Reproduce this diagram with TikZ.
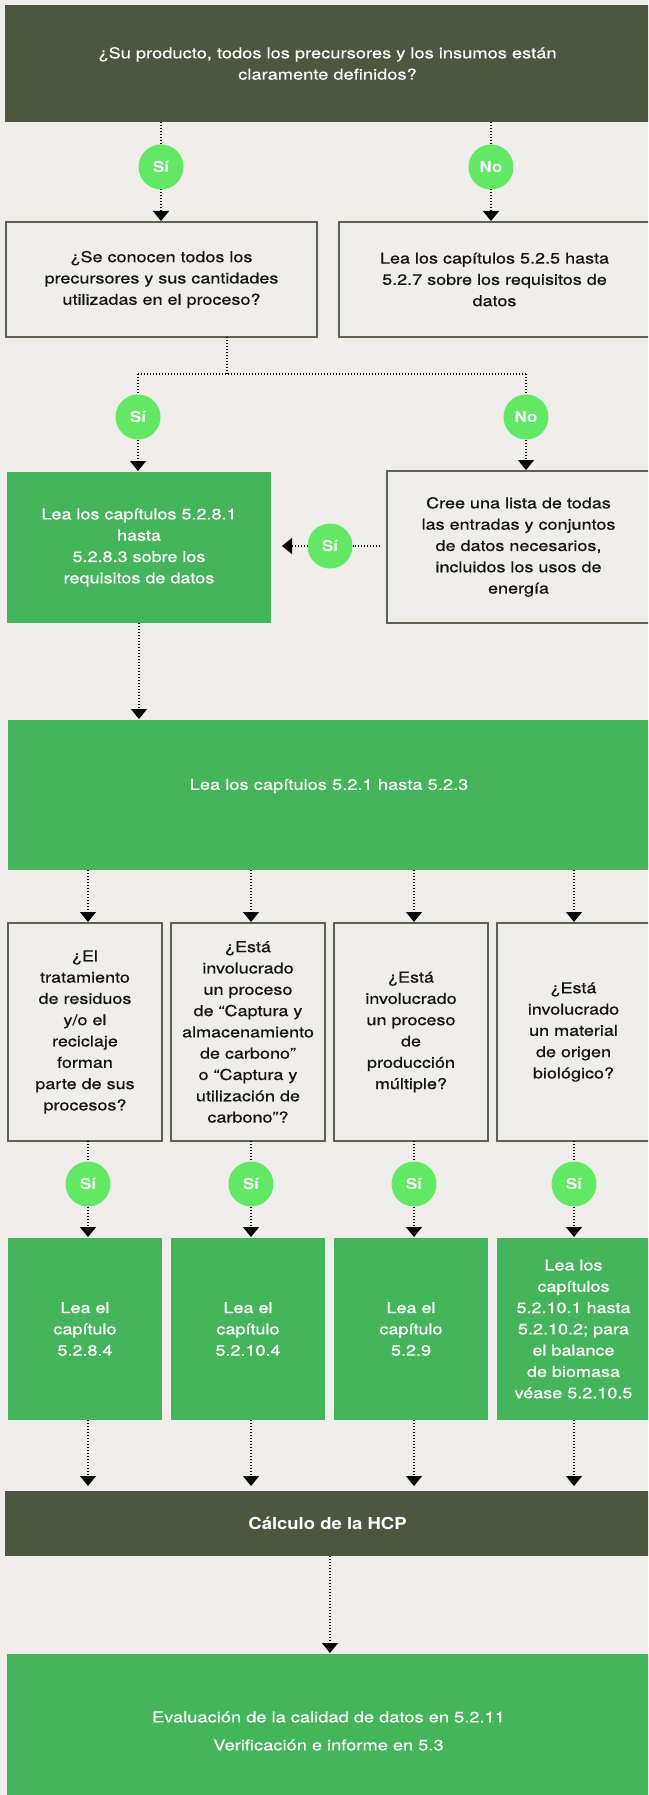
\documentclass[tikz,border=0pt]{standalone}
\usepackage{fontspec}
\setmainfont{TeX Gyre Heros}[FakeStretch=1.2, FakeBold=0.6]
\newfontfamily\lightf{TeX Gyre Heros}[FakeStretch=1.22, FakeBold=0.2]
\newfontfamily\boldf{TeX Gyre Heros}[FakeStretch=1.12]
\usetikzlibrary{arrows.meta}
\definecolor{bg}{HTML}{EFEEEA}
\definecolor{dark}{HTML}{4D5740}
\definecolor{grn}{HTML}{45B55C}
\definecolor{lgrn}{HTML}{62E865}
\definecolor{edge}{HTML}{5D6354}
\definecolor{ink}{HTML}{141414}
\begin{document}
\begin{tikzpicture}[x=1pt,y=-1pt,
  every node/.style={inner sep=0pt, outer sep=0pt},
  txt/.style={font=\fontsize{15}{21.3}\selectfont, align=center},
  ltxt/.style={font=\lightf\fontsize{15}{21.3}\selectfont, align=center},
  qbox/.style={draw=edge, line width=1.5pt, fill=bg, txt, text=ink},
  gbox/.style={fill=grn, txt, text=white},
  dbox/.style={fill=dark, ltxt, text=white},
  yes/.style={circle, fill=lgrn, minimum size=45pt, text=white, font=\boldf\bfseries\fontsize{15}{18}\selectfont},
  dot/.style={line width=1.1pt, dash pattern=on 1pt off 2pt, black},
  arr/.style={dot, -{Triangle[width=16pt,length=10pt]}, shorten >=1pt},
]
\useasboundingbox (0,0) rectangle (648,1795);
\fill[bg] (0,0) rectangle (648,1795);
\clip (0,0) rectangle (648,1795);

% top
\node[dbox, minimum width=645pt, minimum height=117pt, text width=600pt] (top) at (327.5,63.5)
  {¿Su producto, todos los precursores y los insumos están\\claramente definidos?};
\node[yes] (si1) at (161,167) {Sí};
\node[yes] (no1) at (491,167) {No};
\node[qbox, minimum width=311pt, minimum height=115pt, text width=290pt] (q1) at (161.5,279.5)
  {¿Se conocen todos los\\precursores y sus cantidades\\utilizadas en el proceso?};
\node[qbox, minimum width=311pt, minimum height=115pt, text width=290pt] (r1) at (494.5,279.5)
  {Lea los capítulos 5.2.5 hasta\\5.2.7 sobre los requisitos de\\datos};
\draw[dot] (top.south -| si1) -- (si1);
\draw[dot] (top.south -| no1) -- (no1);
\draw[arr] (si1) -- (q1.north -| si1);
\draw[arr] (no1) -- (r1.north -| no1);

% second level
\coordinate (sp) at (227,374);
\node[yes] (si2) at (138,417) {Sí};
\node[yes] (no2) at (526,417) {No};
\node[gbox, minimum width=264pt, minimum height=151pt, text width=250pt] (g1) at (139,547.5)
  {Lea los capítulos 5.2.8.1\\hasta\\5.2.8.3 sobre los\\requisitos de datos};
\node[qbox, minimum width=263pt, minimum height=152pt, text width=250pt] (c1) at (518.5,547)
  {Cree una lista de todas\\las entradas y conjuntos\\de datos necesarios,\\incluidos los usos de\\energía};
\node[yes] (si3) at (330,546) {Sí};
\draw[dot] (q1.south -| sp) -- (sp);
\draw[dot] (si2 |- sp) -- (no2 |- sp);
\draw[dot] (si2 |- sp) -- (si2);
\draw[dot] (no2 |- sp) -- (no2);
\draw[arr] (si2) -- (g1.north -| si2);
\draw[arr] (no2) -- (c1.north -| no2);
\draw[dot, shorten <=7pt] (c1.west |- si3) -- (si3);
\draw[arr, shorten >=11pt] (si3) -- (g1.east |- si3);

% big green
\node[fill=grn, minimum width=642pt, minimum height=150pt] (big1) at (329,795) {};
\node[ltxt, text=white] (big1t) at (329,786) {Lea los capítulos 5.2.1 hasta 5.2.3};
\draw[arr] (g1.south) -- (big1.north -| g1.south);

% row of questions
\node[qbox, minimum width=154pt, minimum height=218pt, text width=150pt] (qa) at (85,1032)
  {¿El\\tratamiento\\de residuos\\y/o el\\reciclaje\\forman\\parte de sus\\procesos?};
\node[qbox, minimum width=154pt, minimum height=218pt, text width=150pt] (qb) at (248,1032)
  {¿Está\\involucrado\\un proceso\\de “Captura y\\almacenamiento\\de carbono”\\o “Captura y\\utilización de\\carbono”?};
\node[qbox, minimum width=154pt, minimum height=218pt, text width=150pt] (qc) at (411,1032)
  {¿Está\\involucrado\\un proceso\\de\\producción\\múltiple?};
\node[qbox, minimum width=153pt, minimum height=218pt, text width=150pt] (qd) at (573.5,1032)
  {¿Está\\involucrado\\un material\\de origen\\biológico?};

\node[yes] (sa) at (88,1184) {Sí};
\node[yes] (sb) at (251,1184) {Sí};
\node[yes] (sc) at (414,1184) {Sí};
\node[yes] (sd) at (574,1184) {Sí};

\node[gbox, minimum width=154pt, minimum height=182pt, text width=150pt] (ga) at (85,1329)
  {Lea el\\capítulo\\5.2.8.4};
\node[gbox, minimum width=154pt, minimum height=182pt, text width=150pt] (gb) at (248,1329)
  {Lea el\\capítulo\\5.2.10.4};
\node[gbox, minimum width=154pt, minimum height=182pt, text width=150pt] (gc) at (411,1329)
  {Lea el\\capítulo\\5.2.9};
\node[gbox, minimum width=153pt, minimum height=182pt, text width=150pt] (gd) at (573.5,1329)
  {Lea los\\capítulos\\5.2.10.1 hasta\\5.2.10.2; para\\el balance\\de biomasa\\véase 5.2.10.5};

\node[fill=dark, minimum width=645pt, minimum height=65pt, text=white,
  font=\boldf\bfseries\fontsize{16.5}{20}\selectfont] (calc) at (327.5,1523.5) {Cálculo de la HCP};

\node[fill=grn, text=white, minimum width=643pt, minimum height=154pt, text width=600pt, align=center,
  font=\lightf\fontsize{15}{28}\selectfont] (fin) at (328.5,1731)
  {Evaluación de la calidad de datos en 5.2.11\\Verificación e informe en 5.3};

\foreach \q/\s/\g in {qa/sa/ga, qb/sb/gb, qc/sc/gc, qd/sd/gd}{
  \draw[arr] (big1.south -| \s) -- (\q.north -| \s);
  \draw[dot] (\q.south -| \s) -- (\s);
  \draw[arr] (\s) -- (\g.north -| \s);
  \draw[arr, shorten >=5pt] (\g.south -| \s) -- (calc.north -| \s);
}
\draw[arr] (calc.south) ++(2.5,0) coordinate (cs) -- (fin.north -| cs);
\end{tikzpicture}
\end{document}
